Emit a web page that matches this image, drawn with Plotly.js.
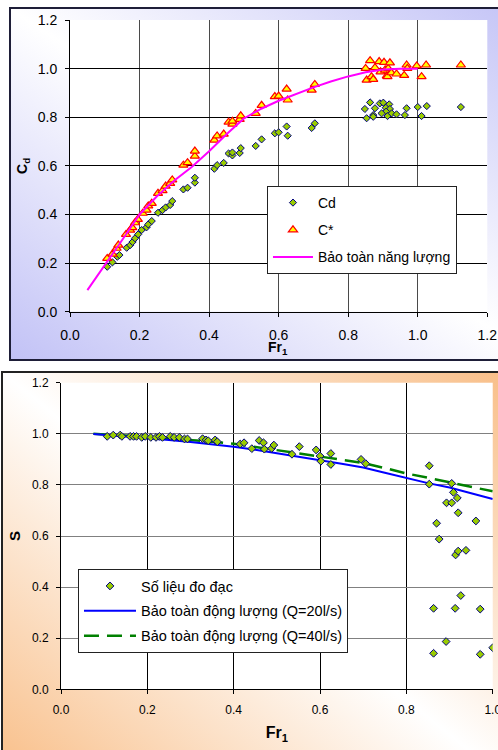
<!DOCTYPE html>
<html><head><meta charset="utf-8">
<script src="https://cdn.plot.ly/plotly-3.0.1.min.js"></script>
<style>
html,body{margin:0;padding:0;width:498px;height:750px;overflow:hidden;background:#fff;position:relative}
#f1{position:absolute;left:9px;top:7px;width:530px;height:354px;box-sizing:border-box;border:2px solid #1e1e38;background:linear-gradient(to top right,#c2c2f6 0%,#ffffff 50%,#c2c2f6 100%);}
#f2{position:absolute;left:1px;top:371px;width:530px;height:430px;box-sizing:border-box;border:2px solid #222;background:linear-gradient(to top right,#f8bb82 0%,#ffffff 50%,#f8bb82 100%);}
#chart{position:absolute;left:0;top:0;width:498px;height:750px}
</style></head>
<body>
<div id="f1"></div><div id="f2"></div><div id="chart"></div>
<script>
// ---- Top chart: Cd and C* vs Fr1 ----
const cdX = [0.107,0.122,0.136,0.142,0.163,0.173,0.180,0.187,0.196,0.206,0.220,0.225,0.235,0.253,0.266,0.275,0.288,0.294,0.326,0.338,0.359,0.359,0.415,0.423,0.442,0.456,0.467,0.467,0.488,0.491,0.534,0.551,0.589,0.600,0.623,0.626,0.695,0.704,
  0.863,0.848,0.877,0.891,0.901,0.918,0.908,0.920,0.909,0.896,0.872,0.853,0.872,0.913,0.925,0.939,0.963,0.968,1.000,1.011,1.026,1.124];
const cdY = [0.185,0.203,0.226,0.233,0.263,0.274,0.287,0.302,0.318,0.336,0.347,0.359,0.373,0.407,0.418,0.429,0.439,0.455,0.503,0.510,0.531,0.551,0.588,0.603,0.612,0.651,0.643,0.655,0.653,0.673,0.682,0.709,0.734,0.738,0.762,0.724,0.756,0.775,
  0.861,0.834,0.837,0.857,0.860,0.853,0.839,0.834,0.823,0.816,0.809,0.796,0.802,0.805,0.816,0.812,0.809,0.837,0.842,0.805,0.846,0.842];
const csX = [0.107,0.122,0.134,0.139,0.161,0.173,0.179,0.187,0.195,0.209,0.220,0.225,0.235,0.253,0.266,0.275,0.288,0.294,0.326,0.338,0.359,0.359,0.415,0.423,0.442,0.456,0.467,0.467,0.488,0.491,0.534,0.551,0.589,0.600,0.623,0.626,0.695,0.704,
  0.850,0.853,0.863,0.867,0.872,0.877,0.889,0.893,0.903,0.906,0.911,0.915,0.920,0.913,0.924,0.939,0.961,0.968,0.970,0.997,1.011,1.024,1.124];
const csY = [0.219,0.237,0.261,0.274,0.318,0.336,0.346,0.366,0.380,0.405,0.418,0.435,0.446,0.487,0.498,0.517,0.528,0.542,0.603,0.613,0.640,0.661,0.706,0.723,0.731,0.780,0.772,0.784,0.791,0.806,0.816,0.849,0.885,0.887,0.916,0.871,0.912,0.935,
  1.001,0.953,1.033,0.967,0.956,1.004,1.029,0.987,1.026,0.994,0.970,1.001,1.024,0.967,0.983,0.978,0.972,1.015,1.001,1.011,0.967,1.015,1.015];
const enX = [0.05,0.10,0.15,0.20,0.25,0.30,0.35,0.40,0.45,0.50,0.55,0.60,0.65,0.70,0.75,0.80,0.85,0.90,0.95,1.00];
const enY = [0.089,0.19,0.295,0.40,0.475,0.54,0.595,0.66,0.73,0.795,0.835,0.868,0.897,0.923,0.947,0.968,0.985,0.996,1.0,1.0];

// ---- Bottom chart: S vs Fr1 ----
const sX = [0.107,0.121,0.137,0.141,0.160,0.168,0.175,0.187,0.195,0.208,0.220,0.228,0.235,0.253,0.262,0.274,0.286,0.293,0.328,0.336,0.341,0.357,0.362,0.415,0.424,0.442,0.459,0.469,0.471,0.488,0.493,0.535,0.552,0.591,0.600,0.602,0.625,0.625,0.695,0.706,
  0.853,0.853,0.870,0.876,0.863,0.863,0.892,0.893,0.905,0.905,0.909,0.918,0.920,0.914,0.920,0.913,0.926,0.938,0.961,0.971,0.971,1.000];
const sY = [0.990,0.995,0.995,0.990,0.990,0.990,0.990,0.986,0.990,0.986,0.986,0.990,0.986,0.990,0.986,0.986,0.980,0.980,0.981,0.976,0.973,0.976,0.969,0.960,0.965,0.942,0.974,0.965,0.940,0.943,0.956,0.920,0.950,0.937,0.913,0.893,0.923,0.880,0.900,0.883,
  0.875,0.803,0.650,0.588,0.317,0.141,0.187,0.730,0.730,0.806,0.771,0.749,0.691,0.526,0.541,0.317,0.367,0.544,0.659,0.314,0.137,0.163];
const mX = [0.075,0.10,0.15,0.20,0.25,0.30,0.35,0.40,0.45,0.50,0.55,0.60,0.65,0.70,0.75,0.80,0.85,0.90,0.95,1.00];
const m20Y = [0.999,0.996,0.990,0.983,0.976,0.968,0.959,0.949,0.938,0.925,0.912,0.897,0.883,0.868,0.848,0.826,0.807,0.790,0.768,0.745];
const m40Y = [1.000,0.997,0.993,0.988,0.982,0.976,0.969,0.961,0.949,0.936,0.925,0.912,0.899,0.886,0.866,0.845,0.828,0.810,0.792,0.775];

const FONT = 'Arial, "Liberation Sans", sans-serif';

const traces = [
  {x:cdX, y:cdY, type:'scatter', mode:'markers', name:'Cd', xaxis:'x', yaxis:'y', legend:'legend', legendgroup:'g1',
   marker:{symbol:'diamond', size:5.5, color:'#99cc00', line:{color:'#000080', width:1}}},
  {x:csX, y:csY, type:'scatter', mode:'markers', name:'C*', xaxis:'x', yaxis:'y', legend:'legend', legendgroup:'g2',
   marker:{symbol:'triangle-up', size:8, color:'#ffff00', line:{color:'#ff0000', width:1.2}}},
  {x:enX, y:enY, type:'scatter', mode:'lines', name:'Bảo toàn năng lượng', xaxis:'x', yaxis:'y', legend:'legend', legendgroup:'g3',
   line:{color:'#ff00ff', width:2}},
  {x:mX, y:m40Y, type:'scatter', mode:'lines', name:'Bảo toàn động lượng (Q=40l/s)', xaxis:'x2', yaxis:'y2', legend:'legend2', legendrank:3, legendgroup:'h3',
   line:{color:'#008000', width:2.5, dash:'15px,8px'}},
  {x:mX, y:m20Y, type:'scatter', mode:'lines', name:'Bảo toàn động lượng (Q=20l/s)', xaxis:'x2', yaxis:'y2', legend:'legend2', legendrank:2, legendgroup:'h2',
   line:{color:'#0000ff', width:2}},
  {x:sX, y:sY, type:'scatter', mode:'markers', name:'Số liệu đo đạc', xaxis:'x2', yaxis:'y2', legend:'legend2', legendrank:1, legendgroup:'h1',
   marker:{symbol:'diamond', size:6, color:'#99cc00', line:{color:'#000080', width:1}}}
];

const axBase = {tick0:0, dtick:0.2, tickformat:'.1f', showgrid:true, gridwidth:1, showline:true, linecolor:'#000', linewidth:1,
  ticks:'outside', ticklen:4, tickcolor:'#000', zeroline:false, automargin:false, fixedrange:true, ticklabeloverflow:'allow'};

const layout = {
  width:498, height:750, margin:{l:0,r:0,t:0,b:0},
  paper_bgcolor:'rgba(0,0,0,0)', plot_bgcolor:'#ffffff',
  font:{family:FONT, color:'#000', size:14},
  showlegend:true,
  xaxis:Object.assign({}, axBase, {domain:[0.1406,0.9785], anchor:'y', range:[0,1.2], gridcolor:'#4a4a4a',
    tickfont:{size:14}, ticklabelstandoff:6}),
  yaxis:Object.assign({}, axBase, {domain:[0.5844,0.9733], anchor:'x', range:[0,1.2], gridcolor:'#000',
    tickfont:{size:14}, ticklabelstandoff:5,
    title:{text:'<b>C<sub>d</sub></b>', font:{size:14}, standoff:6}}),
  xaxis2:Object.assign({}, axBase, {domain:[0.1225,0.9894], anchor:'y2', range:[0,1.0], gridcolor:'#000',
    tickfont:{size:12}, ticklabelstandoff:5,
    title:{text:'<b>Fr<sub>1</sub></b>', font:{size:16}, standoff:11}}),
  yaxis2:Object.assign({}, axBase, {domain:[0.0809,0.4897], anchor:'x2', range:[0,1.2], gridcolor:'#808080',
    tickfont:{size:12}, ticklabelstandoff:5,
    title:{text:'<b>S</b>', font:{size:15}, standoff:7}}),
  annotations:[
    {text:'<b>Fr<sub>1</sub></b>', xref:'paper', yref:'paper', x:278/498, y:1-348/750, xanchor:'center', yanchor:'middle',
     showarrow:false, font:{size:14, family:FONT, color:'#000'}}
  ],
  legend:{x:0.5361, y:1-186/750, xanchor:'left', yanchor:'top', bgcolor:'#ffffff', bordercolor:'#222', borderwidth:1,
    font:{size:14, family:FONT}, itemwidth:40, tracegroupgap:6, traceorder:'grouped'},
  legend2:{x:0.1566, y:1-569/750, xanchor:'left', yanchor:'top', bgcolor:'#ffffff', bordercolor:'#222', borderwidth:1,
    font:{size:14.5, family:FONT}, itemwidth:52, tracegroupgap:3, traceorder:'grouped'}
};

Plotly.newPlot('chart', traces, layout, {staticPlot:true, displayModeBar:false});
</script>
</body></html>
